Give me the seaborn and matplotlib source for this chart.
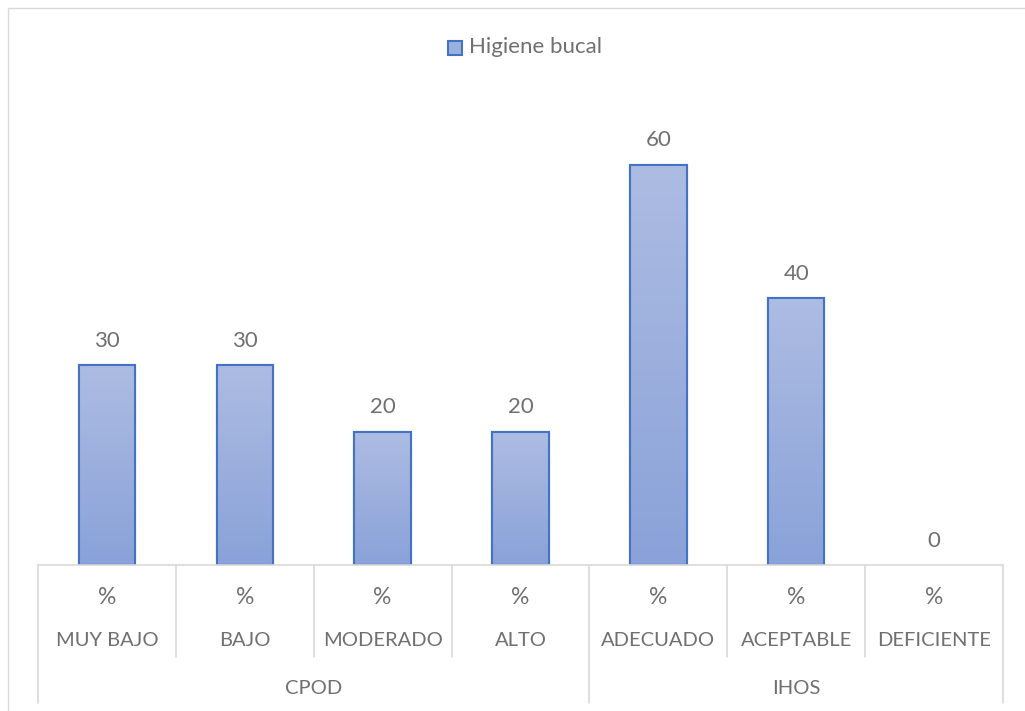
import matplotlib
matplotlib.use("Agg")
import matplotlib.pyplot as plt
import seaborn as sns
import numpy as np
import pandas as pd
from matplotlib.lines import Line2D
from matplotlib.patches import Rectangle
from matplotlib.colors import LinearSegmentedColormap

categories = ["MUY BAJO", "BAJO", "MODERADO", "ALTO", "ADECUADO", "ACEPTABLE", "DEFICIENTE"]
groups = ["CPOD", "CPOD", "CPOD", "CPOD", "IHOS", "IHOS", "IHOS"]
units = ["%"] * 7
values = [30, 30, 20, 20, 60, 40, 0]
series_name = "Higiene bucal"

sns.set_theme(style="white")
plt.rcParams['font.family'] = ['Lato', 'DejaVu Sans']

TXT = "#707070"
df = pd.DataFrame({"cat": categories, "val": values})

fig = plt.figure(figsize=(10.25, 7.11), dpi=100)
W, H = 1025, 711
ax = fig.add_axes([38 / W, 1 - 565 / H, (1003 - 38) / W, (565 - 98) / H])

sns.barplot(data=df, x="cat", y="val", ax=ax, color="#8faadc", width=0.41,
            edgecolor="#4472c4", linewidth=1.5, saturation=1)
ax.set_ylim(0, 70)
ax.set_xlim(-0.5, len(categories) - 0.5)

# gradient fill
grad = np.linspace(0, 1, 256).reshape(-1, 1)
cmap = LinearSegmentedColormap.from_list("g", ["#8aa2d9", "#adbce2"])
for p in list(ax.patches):
    x0, y0 = p.get_x(), p.get_y()
    w, h = p.get_width(), p.get_height()
    if h <= 0:
        p.set_visible(False)
        continue
    im = ax.imshow(grad, cmap=cmap, aspect="auto", origin="lower",
                   extent=[x0, x0 + w, y0, y0 + h], zorder=p.get_zorder() + 0.1)
    im.set_clip_path(p)
    edge = Rectangle((x0, y0), w, h, fill=False, edgecolor="#4472c4", linewidth=1.5,
                     zorder=p.get_zorder() + 0.2)
    ax.add_patch(edge)
ax.set_xlim(-0.5, len(categories) - 0.5)
ax.set_ylim(0, 70)

# data labels
for i, v in enumerate(values):
    ax.annotate(str(v), (i, v), xytext=(0, 17.5), textcoords="offset points",
                ha="center", va="center", fontsize=16, color=TXT)

ax.set_xlabel("")
ax.set_ylabel("")
ax.set_xticks([])
ax.set_yticks([])
for s in ["top", "right", "left"]:
    ax.spines[s].set_visible(False)
ax.spines["bottom"].set_color("#d9d9d9")
ax.spines["bottom"].set_linewidth(1.2)

def fx(px):
    return px / W
def fy(py):
    return 1 - py / H

lc = "#d9d9d9"
n = len(categories)
xs = [38 + i * (1003 - 38) / n for i in range(n + 1)]
for i, x in enumerate(xs):
    bottom = 657
    if i == 0 or i == n or groups[i - 1] != groups[min(i, n - 1)]:
        bottom = 703
    fig.add_artist(Line2D([fx(x), fx(x)], [fy(565), fy(bottom)], color=lc, lw=1.2))
for i in range(n):
    cx = (xs[i] + xs[i + 1]) / 2
    fig.text(fx(cx), fy(597), units[i], ha="center", va="center", fontsize=16.5, color=TXT)
    fig.text(fx(cx), fy(641), categories[i], ha="center", va="center", fontsize=14.5, color=TXT)
ug = []
for g in groups:
    if g not in ug:
        ug.append(g)
for g in ug:
    idx = [i for i, gg in enumerate(groups) if gg == g]
    cx = (xs[idx[0]] + xs[idx[-1] + 1]) / 2
    fig.text(fx(cx), fy(688), g, ha="center", va="center", fontsize=14.5, color=TXT)

# chart border (partial)
fig.add_artist(Line2D([fx(8), fx(8)], [fy(8), fy(711)], color=lc, lw=1.0))
fig.add_artist(Line2D([fx(8), fx(1025)], [fy(8), fy(8)], color=lc, lw=1.0))

# legend
fig.add_artist(Rectangle((fx(448), fy(55)), 14 / W, 14 / H, facecolor="#9cb0de",
                         edgecolor="#4472c4", lw=1.5))
fig.text(fx(469), fy(47), series_name, ha="left", va="center", fontsize=16, color=TXT)

fig.savefig("out.png", dpi=100)
